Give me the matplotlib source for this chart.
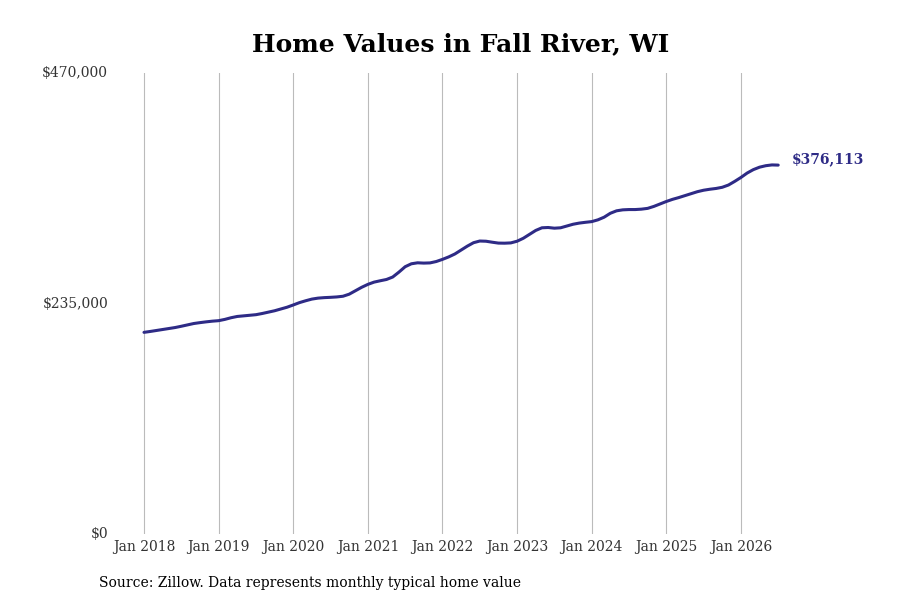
import numpy as np
import matplotlib
matplotlib.use('Agg')
import matplotlib.pyplot as plt

# monthly typical home value, Jan 2018 .. Jul 2026 (thousands of $)
values_k = [
    205.6, 206.5, 207.5, 208.5, 209.5, 210.5, 211.8, 213.2, 214.6, 215.5, 216.3, 217.0,
    217.5, 218.8, 220.5, 221.8, 222.4, 223.0, 223.6, 224.8, 226.2, 227.6, 229.4, 231.2,
    233.5, 235.9, 237.8, 239.5, 240.5, 241.0, 241.3, 241.7, 242.4, 244.5, 248.0, 251.5,
    254.5, 256.8, 258.2, 259.5, 262.0, 267.0, 272.5, 275.5, 276.5, 276.2, 276.4, 277.8,
    280.0, 282.5, 285.5, 289.5, 293.5, 297.0, 298.7, 298.5, 297.5, 296.6, 296.5, 296.8,
    298.5, 301.5, 305.5, 309.5, 312.2, 312.5, 311.8, 312.2, 314.0, 315.8, 317.0, 317.8,
    318.5, 320.3, 323.0, 327.0, 329.5, 330.5, 330.8, 330.8, 331.2, 332.0, 334.0, 336.5,
    339.0, 341.2, 343.0, 345.0, 347.0, 349.0, 350.5, 351.5, 352.3, 353.5, 355.8, 359.5,
    363.5, 368.0, 371.5, 374.0, 375.5, 376.3, 376.113,
]
tick_labels = ['Jan 2018', 'Jan 2019', 'Jan 2020', 'Jan 2021', 'Jan 2022',
               'Jan 2023', 'Jan 2024', 'Jan 2025', 'Jan 2026']
y_ticks = [0, 235000, 470000]
last_label = '$376,113'

plt.rcParams['font.family'] = 'DejaVu Serif'
color = '#2e2b86'

vals = np.array(values_k) * 1000
months = np.arange(len(vals))

fig = plt.figure(figsize=(9, 6), dpi=100)
ax = fig.add_axes([0.1278, 0.11, 0.75, 0.7683])

ax.plot(months, vals, color=color, linewidth=2.2, solid_capstyle='round')
ax.annotate(last_label, (months[-1], vals[-1]), xytext=(10, 4),
            textcoords='offset points', color=color, fontsize=10,
            fontweight='bold', va='center', ha='left')

ax.set_xlim(-4.66, 103.9)
ax.set_ylim(0, 470000)
ax.set_xticks(np.arange(0, 12 * len(tick_labels), 12))
ax.set_xticklabels(tick_labels, fontsize=10, color='#333333')
ax.set_yticks(y_ticks)
ax.set_yticklabels([f'${v:,.0f}' for v in y_ticks], fontsize=10, color='#333333')
ax.tick_params(length=0, pad=4)
ax.tick_params(axis='y', pad=5)
for lbl in ax.get_yticklabels():
    lbl.set_verticalalignment('center')

ax.grid(axis='x', color='#bbbbbb', linewidth=0.8)
ax.grid(axis='y', visible=False)
for s in ax.spines.values():
    s.set_visible(False)

fig.suptitle('Home Values in Fall River, WI', x=0.512, y=0.947,
             fontsize=18, fontweight='bold')
fig.text(0.11, 0.022, 'Source: Zillow. Data represents monthly typical home value',
         fontsize=10)

fig.savefig('out.png', dpi=100)
